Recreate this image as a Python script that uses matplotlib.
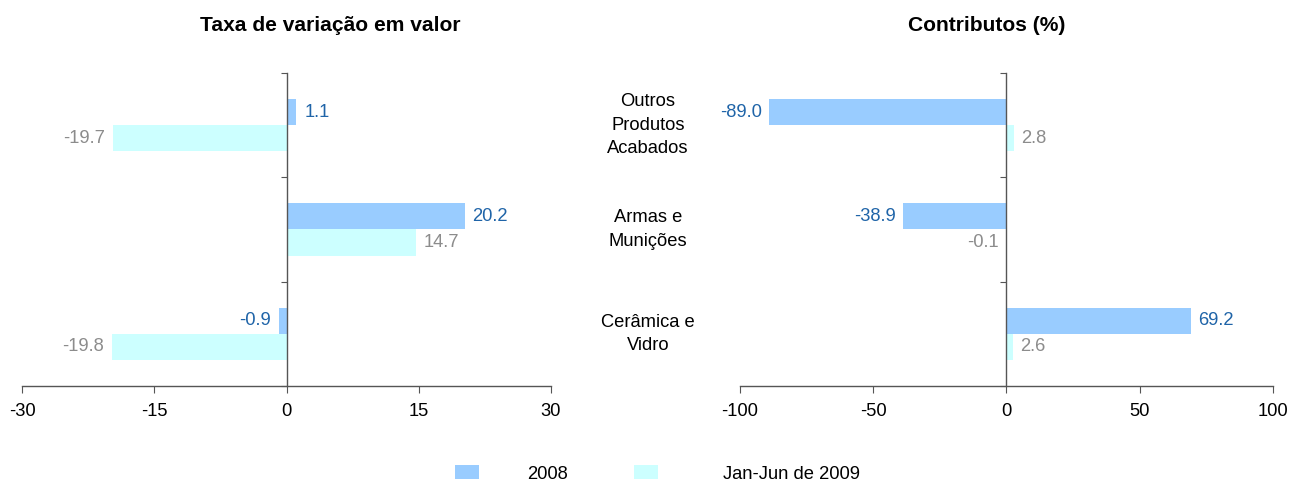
import matplotlib.pyplot as plt
import numpy as np

plt.rcParams['font.family'] = ['Liberation Sans', 'DejaVu Sans']

categories = ['Outros\nProdutos\nAcabados', 'Armas e\nMunições', 'Cerâmica e\nVidro']
series_names = ['2008', 'Jan-Jun de 2009']
taxa_2008 = [1.1, 20.2, -0.9]
taxa_2009 = [-19.7, 14.7, -19.8]
contrib_2008 = [-89.0, -38.9, 69.2]
contrib_2009 = [2.8, -0.1, 2.6]
taxa_ticks = [-30, -15, 0, 15, 30]
contrib_ticks = [-100, -50, 0, 50, 100]

c2008 = '#99ccff'
c2009 = '#ccffff'
lab2008 = '#1f64a8'
lab2009 = '#8c8c8c'
axcol = '#555555'
fs = 13.2

fig = plt.figure(figsize=(12.9, 4.82), dpi=100)
ax1 = fig.add_axes([0.01705, 0.1992, 0.4101, 0.6494])
ax2 = fig.add_axes([0.5736, 0.1992, 0.4132, 0.6494])

# categories from top to bottom
ypos = np.arange(len(categories))[::-1] + 0.5
h = 0.25


def draw(ax, v1, v2, ticks, off):
    b1 = ax.barh(ypos + h / 2, v1, height=h, color=c2008, label=series_names[0])
    b2 = ax.barh(ypos - h / 2, v2, height=h, color=c2009, label=series_names[1])
    for y, v in zip(ypos + h / 2, v1):
        ax.text(v + (off if v >= 0 else -off), y, f'{v:.1f}', color=lab2008,
                ha='left' if v >= 0 else 'right', va='center', fontsize=fs)
    for y, v in zip(ypos - h / 2, v2):
        ax.text(v + (off if v >= 0 else -off), y, f'{v:.1f}', color=lab2009,
                ha='left' if v >= 0 else 'right', va='center', fontsize=fs)
    ax.set_xlim(ticks[0], ticks[-1])
    ax.set_ylim(0, len(categories))
    ax.set_xticks(ticks)
    ax.set_xticklabels([str(t) for t in ticks], fontsize=fs)
    ax.set_yticks(np.arange(len(categories) + 1))
    ax.set_yticklabels([])
    ax.spines['top'].set_visible(False)
    ax.spines['right'].set_visible(False)
    ax.spines['left'].set_position(('data', 0))
    for s in ['left', 'bottom']:
        ax.spines[s].set_color(axcol)
        ax.spines[s].set_linewidth(1.0)
    ax.tick_params(axis='x', length=5, color=axcol, pad=7)
    ax.tick_params(axis='y', length=4.5, color=axcol, direction='out')
    return b1, b2


b1, b2 = draw(ax1, taxa_2008, taxa_2009, taxa_ticks, 0.9)
draw(ax2, contrib_2008, contrib_2009, contrib_ticks, 2.7)

for y, c in zip(ypos, categories):
    fig.text(648 / 1290, 1 - (386 - y * 104.3) / 482, c, ha='center', va='center',
             fontsize=fs, linespacing=1.5)

fig.text(330 / 1290, 1 - 31 / 482, 'Taxa de variação em valor', ha='center', va='baseline',
         fontsize=15.1, fontweight='bold')
fig.text(987 / 1290, 1 - 31 / 482, 'Contributos (%)', ha='center', va='baseline',
         fontsize=15.1, fontweight='bold')

# two separate legend entries, spaced like the original
leg1 = fig.legend([b1], [series_names[0]], loc='center left',
                  bbox_to_anchor=(455 / 1290, 1 - 474 / 482), frameon=False, fontsize=fs,
                  handlelength=1.31, handleheight=0.8, handletextpad=2.6, borderpad=0,
                  borderaxespad=0)
fig.legend([b2], [series_names[1]], loc='center left',
           bbox_to_anchor=(634 / 1290, 1 - 474 / 482), frameon=False, fontsize=fs,
           handlelength=1.31, handleheight=0.8, handletextpad=3.55, borderpad=0,
           borderaxespad=0)

fig.savefig('out.png', dpi=100)
